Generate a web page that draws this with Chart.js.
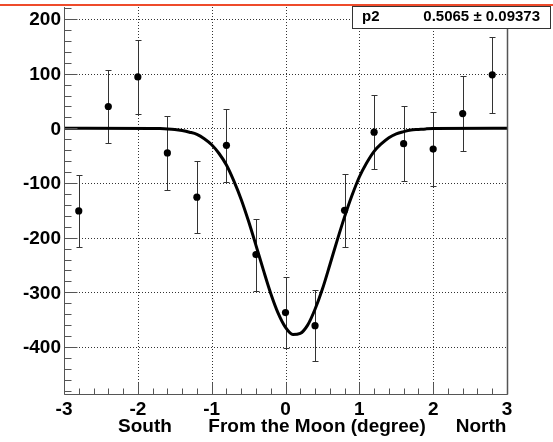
<!DOCTYPE html>
<html><head><meta charset="utf-8">
<script src="https://cdn.jsdelivr.net/npm/chart.js@4"></script>
<style>html,body{margin:0;padding:0;background:#fff;overflow:hidden}canvas{display:block}</style>
</head><body>
<canvas id="c" width="553" height="442"></canvas>
<script>
// ---- data ----
const binCenters = [-2.8, -2.4, -2.0, -1.6, -1.2, -0.8, -0.4, 0.0, 0.4, 0.8, 1.2, 1.6, 2.0, 2.4, 2.8];
const counts     = [-151, 40, 94, -45, -126, -31, -231, -337, -361, -150, -7, -28, -38, 27, 98];
const errors     = [66, 67, 67, 67, 66, 67, 66, 65, 65, 67, 68, 68, 68, 69, 70];

// fitted curve, sampled along the drawn line
const fitX = [-3.0, -1.8, -1.7, -1.6, -1.5, -1.4, -1.3, -1.2, -1.1, -1.0, -0.9, -0.8, -0.7, -0.6, -0.5, -0.4, -0.3, -0.2, -0.1,
              0.0, 0.1, 0.2, 0.3, 0.4, 0.5, 0.6, 0.7, 0.8, 0.9, 1.0, 1.1, 1.2, 1.3, 1.4, 1.5, 1.6, 1.7, 1.8, 1.9, 2.0, 3.0];
const fitY = [0, -0.3, -0.5, -1, -2, -4, -7, -11, -19, -30, -46, -67, -96, -130, -170, -214, -259, -302, -338,
              -364, -377, -375, -360, -331, -294, -250, -205, -162, -123, -89, -63, -42, -28, -17, -10, -6, -3, -2, -1, -0.4, 0];

const xTickValues = [-3, -2, -1, 0, 1, 2, 3];
const yTickValues = [-400, -300, -200, -100, 0, 100, 200];
const xTitleParts = ["South", "From the Moon (degree)", "North"];
const statName = "p2";
const statValue = "0.5065 \u00b1 0.09373";

const FONT = '"Liberation Sans", Arial, Helvetica, sans-serif';

function seg(ctx, x1, y1, x2, y2) { ctx.beginPath(); ctx.moveTo(x1, y1); ctx.lineTo(x2, y2); ctx.stroke(); }

const rootStyle = {
  id: 'rootStyle',
  beforeDatasetsDraw(chart) {
    const { ctx, chartArea: a, scales: { x, y } } = chart;
    ctx.save();
    ctx.lineWidth = 1;
    ctx.strokeStyle = '#333';
    ctx.setLineDash([1, 2]);
    xTickValues.forEach(v => {
      if (v <= x.min || v >= x.max) return;
      const px = Math.round(x.getPixelForValue(v)) + 0.5;
      seg(ctx, px, a.top, px, a.bottom);
    });
    yTickValues.forEach(v => {
      if (v <= y.min || v >= y.max) return;
      const py = Math.round(y.getPixelForValue(v)) + 0.5;
      seg(ctx, a.left, py, a.right, py);
    });
    ctx.setLineDash([]);
    // error bars
    ctx.strokeStyle = '#333';
    binCenters.forEach((b, i) => {
      const px = Math.round(x.getPixelForValue(b)) + 0.5;
      const yTop = Math.round(y.getPixelForValue(counts[i] + errors[i])) + 0.5;
      const yBot = Math.round(y.getPixelForValue(counts[i] - errors[i])) + 0.5;
      seg(ctx, px, yTop, px, yBot);
      seg(ctx, px - 3, yTop, px + 3, yTop);
      seg(ctx, px - 3, yBot, px + 3, yBot);
    });
    ctx.restore();
  },
  afterDatasetsDraw(chart) {
    const { ctx, chartArea: a, scales: { x, y } } = chart;
    ctx.save();
    ctx.strokeStyle = '#555';
    ctx.lineWidth = 1;
    const L = Math.round(a.left) + 0.5, R = Math.round(a.right) + 0.5, B = Math.round(a.bottom) + 0.5, T = Math.round(a.top);
    seg(ctx, L, T, L, B);
    seg(ctx, L, B, R, B);
    ctx.lineWidth = 1.5;
    seg(ctx, R, T, R, B);
    ctx.lineWidth = 1;
    // y ticks (inward)
    for (let v = Math.ceil(y.min / 20) * 20; v <= y.max; v += 20) {
      const py = Math.round(y.getPixelForValue(v)) + 0.5;
      const major = v % 100 === 0;
      seg(ctx, L, py, L + (major ? 13 : 7), py);
    }
    // x ticks (inward)
    for (let k = Math.ceil(x.min * 5); k <= x.max * 5; k++) {
      const px = Math.round(x.getPixelForValue(k / 5)) + 0.5;
      const major = k % 5 === 0;
      seg(ctx, px, B, px, B - (major ? 12 : 6));
    }
    ctx.restore();
  },
  afterDraw(chart) {
    const { ctx, scales: { x, y } } = chart;
    ctx.save();
    ctx.fillStyle = '#000';
    ctx.font = 'bold 19px ' + FONT;
    ctx.textAlign = 'right';
    ctx.textBaseline = 'middle';
    yTickValues.forEach(v => ctx.fillText(String(v), 61, y.getPixelForValue(v) + 1));
    ctx.textAlign = 'center';
    ctx.textBaseline = 'alphabetic';
    xTickValues.forEach(v => ctx.fillText(String(v), x.getPixelForValue(v), 415));
    ctx.fillText(xTitleParts[0], 145, 432);
    ctx.fillText(xTitleParts[1], 317, 432);
    ctx.fillText(xTitleParts[2], 481, 432);
    // stats box
    ctx.fillStyle = '#fff';
    ctx.fillRect(352, 6, 199, 23);
    ctx.strokeStyle = '#333';
    ctx.lineWidth = 1;
    ctx.strokeRect(352.5, 6.5, 198, 22);
    ctx.fillStyle = '#000';
    ctx.font = 'bold 15px ' + FONT;
    ctx.textAlign = 'left';
    ctx.fillText(statName, 362, 21);
    ctx.textAlign = 'right';
    ctx.fillText(statValue, 540, 21);
    // top red line
    ctx.fillStyle = '#ee4b2b';
    ctx.fillRect(0, 4, 553, 2);
    ctx.restore();
  }
};

new Chart(document.getElementById('c'), {
  type: 'scatter',
  data: {
    datasets: [
      {
        label: 'data',
        data: binCenters.map((b, i) => ({ x: b, y: counts[i] })),
        pointRadius: 3.6,
        pointBackgroundColor: '#000',
        pointBorderColor: '#000',
        pointBorderWidth: 0,
        showLine: false,
        order: 0
      },
      {
        label: 'fit',
        type: 'line',
        data: fitX.map((v, i) => ({ x: v, y: fitY[i] })),
        borderColor: '#000',
        borderWidth: 3,
        pointRadius: 0,
        fill: false,
        cubicInterpolationMode: 'monotone',
        order: 1
      }
    ]
  },
  options: {
    responsive: false,
    devicePixelRatio: 1,
    animation: false,
    layout: { padding: { top: 7, right: 46, left: 0, bottom: 0 } },
    plugins: { legend: { display: false }, tooltip: { enabled: false } },
    scales: {
      x: {
        type: 'linear', min: -3, max: 3,
        grid: { display: false, drawTicks: false },
        border: { display: false },
        ticks: { display: false },
        afterBuildTicks: s => { s.ticks = xTickValues.map(v => ({ value: v })); },
        afterFit: s => { s.height = 48; }
      },
      y: {
        type: 'linear', min: -486, max: 222,
        grid: { display: false, drawTicks: false },
        border: { display: false },
        ticks: { display: false },
        afterBuildTicks: s => { s.ticks = yTickValues.map(v => ({ value: v })); },
        afterFit: s => { s.width = 64; }
      }
    }
  },
  plugins: [rootStyle]
});
</script>
</body></html>
